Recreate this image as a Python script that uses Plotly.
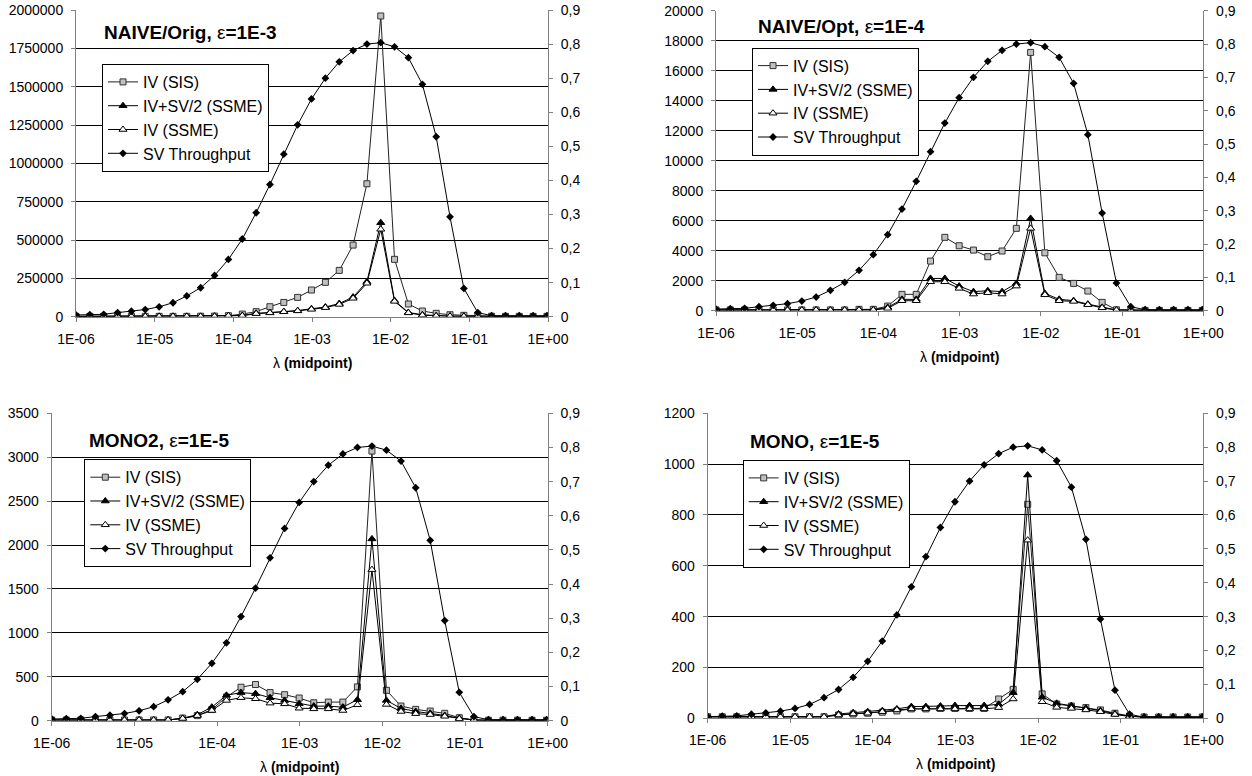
import plotly.graph_objects as go

W, H = 1252, 776

# ---------------- data ----------------
lam = [1.0e-6, 1.5e-6, 2.25e-6, 3.38e-6, 5.06e-6, 7.59e-6, 1.14e-5, 1.71e-5, 2.56e-5,
       3.84e-5, 5.77e-5, 8.65e-5, 1.30e-4, 1.95e-4, 2.92e-4, 4.38e-4, 6.57e-4, 9.85e-4,
       1.48e-3, 2.22e-3, 3.33e-3, 4.99e-3, 7.48e-3, 1.12e-2, 1.68e-2, 2.53e-2, 3.79e-2,
       5.68e-2, 8.52e-2, 0.128, 0.192, 0.288, 0.431, 0.647, 0.971]

sv_throughput = [0.005, 0.006, 0.007, 0.012, 0.016, 0.021, 0.029, 0.041, 0.061, 0.085,
                 0.121, 0.168, 0.228, 0.305, 0.388, 0.477, 0.563, 0.639, 0.700, 0.748,
                 0.781, 0.800, 0.804, 0.792, 0.760, 0.682, 0.528, 0.293, 0.083, 0.012,
                 0.003, 0.003, 0.003, 0.003, 0.003]

# NAIVE/Orig, eps=1E-3
orig_sis = [2000, 2000, 2000, 2000, 2000, 2000, 2000, 2000, 2000, 3000,
            4000, 6500, 17000, 33000, 65000, 93000, 126000, 174000, 224000, 302000,
            467000, 867000, 1961000, 374000, 83000, 37000, 22000, 13000, 9000, 6000,
            3000, 2000, 2000, 2000, 2000]
orig_ssme_half = [2000, 2000, 2000, 2000, 2000, 2000, 2000, 2000, 2000, 2000,
                  3000, 6500, 8000, 22000, 27000, 34000, 40000, 52000, 63000, 86000,
                  128000, 228000, 613000, 105000, 28000, 12000, 6000, 4000, 3000, 2000,
                  2000, 2000, 2000, 2000, 2000]
orig_ssme = [2000, 2000, 2000, 2000, 2000, 2000, 2000, 2000, 2000, 2000,
             3000, 6000, 6500, 20000, 25000, 32000, 38000, 48000, 59000, 80000,
             120000, 218000, 570000, 100000, 25000, 10000, 5000, 3000, 2000, 2000,
             2000, 2000, 2000, 2000, 2000]

# NAIVE/Opt, eps=1E-4
opt_sis = [50, 50, 50, 50, 50, 50, 50, 50, 50, 50,
           90, 90, 310, 1090, 1090, 3310, 4890, 4330, 4040, 3600,
           3980, 5490, 17220, 3860, 2220, 1820, 1310, 555, 60, 30,
           20, 20, 20, 20, 20]
opt_ssme_half = [50, 50, 50, 50, 50, 50, 50, 50, 50, 50,
                 60, 60, 220, 755, 755, 2150, 2150, 1640, 1270, 1330,
                 1270, 1820, 6150, 1150, 760, 670, 440, 220, 50, 30,
                 20, 20, 20, 20, 20]
opt_ssme = [40, 40, 40, 40, 40, 40, 40, 40, 40, 40,
            50, 50, 155, 665, 665, 1930, 1930, 1490, 1110, 1200,
            1110, 1640, 5490, 1060, 665, 620, 400, 190, 40, 25,
            20, 20, 20, 20, 20]

# MONO2, eps=1E-5
mono2_sis = [8, 8, 8, 8, 8, 8, 8, 8, 8, 30,
             58, 127, 270, 381, 412, 320, 296, 258, 204, 212,
             212, 385, 3070, 346, 167, 129, 110, 84, 34, 8,
             5, 5, 5, 5, 5]
mono2_ssme_half = [8, 8, 8, 8, 8, 8, 8, 8, 8, 27,
                   69, 154, 289, 320, 308, 262, 231, 192, 166, 166,
                   154, 239, 2070, 231, 140, 105, 85, 60, 28, 8,
                   5, 5, 5, 5, 5]
mono2_ssme = [8, 8, 8, 8, 8, 8, 8, 8, 8, 25,
              58, 116, 231, 262, 250, 200, 192, 142, 135, 135,
              116, 181, 1720, 185, 105, 80, 70, 50, 22, 8,
              5, 5, 5, 5, 5]

# MONO, eps=1E-5
mono_sis = [6, 6, 6, 6, 6, 6, 6, 6, 6, 13,
            17, 20, 24, 29, 37, 37, 39, 39, 39, 39,
            76, 114, 842, 96, 56, 48, 42, 33, 20, 9,
            5, 5, 5, 5, 5]
mono_ssme_half = [6, 6, 6, 6, 6, 6, 6, 6, 6, 17,
                  22, 26, 30, 37, 46, 46, 48, 50, 50, 50,
                  55, 101, 957, 83, 59, 50, 40, 30, 18, 8,
                  5, 5, 5, 5, 5]
mono_ssme = [6, 6, 6, 6, 6, 6, 6, 6, 6, 13,
             17, 20, 26, 33, 37, 37, 37, 37, 37, 37,
             42, 76, 701, 65, 43, 39, 33, 26, 15, 7,
             5, 5, 5, 5, 5]

panel_titles = ["<b>NAIVE/Orig, </b>ε<b>=1E-3</b>", "<b>NAIVE/Opt, </b>ε<b>=1E-4</b>",
                "<b>MONO2, </b>ε<b>=1E-5</b>", "<b>MONO, </b>ε<b>=1E-5</b>"]
left_max = [2000000, 20000, 3500, 1200]
left_step = [250000, 2000, 500, 200]
series_names = ["IV (SIS)", "IV+SV/2 (SSME)", "IV (SSME)", "SV Throughput"]

x_tick_vals = [1e-6, 1e-5, 1e-4, 1e-3, 1e-2, 1e-1, 1]
x_tick_text = ["1E-06", "1E-05", "1E-04", "1E-03", "1E-02", "1E-01", "1E+00"]
right_tick_vals = [0, 0.1, 0.2, 0.3, 0.4, 0.5, 0.6, 0.7, 0.8, 0.9]
right_tick_text = ["0", "0,1", "0,2", "0,3", "0,4", "0,5", "0,6", "0,7", "0,8", "0,9"]

panel_data = [
    (orig_sis, orig_ssme_half, orig_ssme),
    (opt_sis, opt_ssme_half, opt_ssme),
    (mono2_sis, mono2_ssme_half, mono2_ssme),
    (mono_sis, mono_ssme_half, mono_ssme),
]

# ---------------- layout geometry (pixels) ----------------
boxes = [  # left, right, top, bottom
    (76, 548, 10, 316.7),
    (716, 1203.3, 10.7, 310.7),
    (51.7, 547.7, 413.3, 720.7),
    (707.7, 1203.3, 413.3, 718.3),
]
legend_pos = [(102, 64), (752, 47.7), (84.3, 459.3), (742.7, 460)]
title_pos = [(101.7, 32.7), (756, 26.7), (87.3, 440), (747.7, 441.7)]


def px(x):
    return x / W


def py(y):
    return 1 - y / H


FONT = "Arial, Liberation Sans, sans-serif"
fig = go.Figure()
layout = dict(
    template="none",
    width=W, height=H, margin=dict(l=0, r=0, t=0, b=0, pad=0, autoexpand=False),
    paper_bgcolor="white", plot_bgcolor="white",
    font=dict(family=FONT, size=14, color="black"),
    annotations=[],
)

for i in range(4):
    n = i + 1
    xa = "x" if n == 1 else f"x{n}"
    ya = "y" if n == 1 else f"y{n}"
    yr = f"y{n + 4}"
    leg = "legend" if n == 1 else f"legend{n}"
    sis, half, ssme = panel_data[i]

    fig.add_trace(go.Scatter(
        x=lam, y=sis, name=series_names[0], xaxis=xa, yaxis=ya, legend=leg,
        mode="lines+markers", line=dict(color="#222222", width=1),
        marker=dict(symbol="square", size=6, color="#C0C0C0",
                    line=dict(color="#333333", width=1))))
    fig.add_trace(go.Scatter(
        x=lam, y=half, name=series_names[1], xaxis=xa, yaxis=ya, legend=leg,
        mode="lines+markers", line=dict(color="black", width=1),
        marker=dict(symbol="triangle-up", size=7, color="black",
                    line=dict(color="black", width=1))))
    fig.add_trace(go.Scatter(
        x=lam, y=ssme, name=series_names[2], xaxis=xa, yaxis=ya, legend=leg,
        mode="lines+markers", line=dict(color="black", width=1),
        marker=dict(symbol="triangle-up", size=7, color="white",
                    line=dict(color="black", width=1))))
    fig.add_trace(go.Scatter(
        x=lam, y=sv_throughput, name=series_names[3], xaxis=xa, yaxis=yr, legend=leg,
        mode="lines+markers", line=dict(color="black", width=1),
        marker=dict(symbol="diamond", size=6, color="black")))

    l, r, t, b = boxes[i]
    xkey = "xaxis" if n == 1 else f"xaxis{n}"
    ykey = "yaxis" if n == 1 else f"yaxis{n}"
    yrkey = f"yaxis{n + 4}"
    layout[xkey] = dict(
        type="log", range=[-6, 0], domain=[px(l), px(r)], anchor=ya,
        tickvals=x_tick_vals, ticktext=x_tick_text, ticks="outside", ticklen=4,
        tickcolor="#808080", showline=True, linecolor="#808080", linewidth=1,
        showgrid=False, zeroline=False, ticklabelstandoff=5, automargin=False,
        tickfont=dict(size=14))
    ticks = list(range(0, left_max[i] + 1, left_step[i]))
    layout[ykey] = dict(
        range=[0, left_max[i]], domain=[py(b), py(t)], anchor=xa,
        tickvals=ticks, ticktext=[str(v) for v in ticks], ticks="outside", ticklen=4,
        tickcolor="#808080", showline=True, linecolor="#808080", linewidth=1,
        showgrid=True, gridcolor="black", gridwidth=1, zeroline=False,
        ticklabelstandoff=5, automargin=False, tickfont=dict(size=14))
    layout[yrkey] = dict(
        range=[0, 0.9], overlaying=ya, side="right", anchor=xa,
        tickvals=right_tick_vals, ticktext=right_tick_text, ticks="outside", ticklen=4,
        tickcolor="#808080", showline=True, linecolor="#808080", linewidth=1,
        showgrid=False, zeroline=False, ticklabelstandoff=5, automargin=False,
        tickfont=dict(size=14))

    lx, ly = legend_pos[i]
    layout[leg] = dict(
        x=px(lx), y=py(ly), xanchor="left", yanchor="top",
        bgcolor="white", bordercolor="black", borderwidth=1,
        font=dict(family=FONT, size=16, color="black"), itemwidth=30,
        traceorder="normal", tracegroupgap=0)

    tx, ty = title_pos[i]
    layout["annotations"].append(dict(
        text=panel_titles[i], x=px(tx), y=py(ty), xref="paper", yref="paper",
        xanchor="left", yanchor="middle", showarrow=False,
        font=dict(family=FONT, size=19, color="black")))
    layout["annotations"].append(dict(
        text="λ <b>(midpoint)</b>", x=px((l + r) / 2), y=py(b + 46),
        xref="paper", yref="paper", xanchor="center", yanchor="middle",
        showarrow=False, font=dict(family=FONT, size=14, color="black")))

fig.update_layout(**layout)
fig.write_html("out.html")
